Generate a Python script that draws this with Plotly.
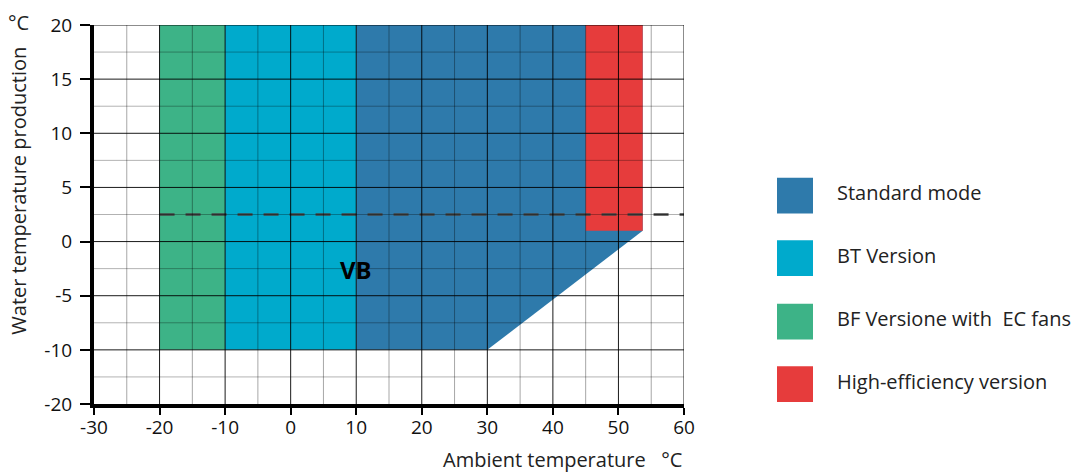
import plotly.graph_objects as go

# ---------------- data ----------------
series_names = ["Standard mode", "BT Version", "BF Versione with  EC fans", "High-efficiency version"]
series_colors = ["#2e7aab", "#00aacc", "#3db387", "#e63c3c"]

# polygon outlines (ambient temp, water temp)
standard_x = [10, 30, 53.7, 53.7, 10, 10]
standard_y = [-10, -10, 1, 20, 20, -10]
bt_x = [-10, 10, 10, -10, -10]
bt_y = [-10, -10, 20, 20, -10]
bf_x = [-20, -10, -10, -20, -20]
bf_y = [-10, -10, 20, 20, -10]
he_x = [45, 53.7, 53.7, 45, 45]
he_y = [1, 1, 20, 20, 1]

limit_x = [-20, 60]
limit_y = [2.5, 2.5]

x_ticks = [-30, -20, -10, 0, 10, 20, 30, 40, 50, 60]
x_minor = [-25, -15, -5, 5, 15, 25, 35, 45, 55]
y_tick_pos = [20, 15, 10, 5, 0, -5, -10, -15]
y_tick_labels = ["20", "15", "10", "5", "0", "-5", "-10", "-20"]
y_minor = [17.5, 12.5, 7.5, 2.5, -2.5, -7.5, -12.5]

label_text = "VB"
label_x, label_y = 9.9, -2.6

FONT = "Open Sans, Lato, sans-serif"

# layout geometry (pixels)
W, H = 1080, 472
L, R, T, B = 94, 684, 22, 404

def px_x(p):
    return (p - L) / (R - L)

def px_y(p):
    return (B - p) / (B - T)

fig = go.Figure()
polys = [(bf_x, bf_y, 2), (bt_x, bt_y, 1), (standard_x, standard_y, 0), (he_x, he_y, 3)]
for xs, ys, i in polys:
    fig.add_trace(go.Scatter(x=xs, y=ys, fill="toself", mode="lines",
                             line=dict(width=0, color=series_colors[i]),
                             fillcolor=series_colors[i], name=series_names[i],
                             showlegend=False, hoverinfo="skip"))

fig.add_trace(go.Scatter(x=limit_x, y=limit_y, mode="lines",
                         line=dict(color="#444444", width=2.5, dash="15px,11px"),
                         showlegend=False, hoverinfo="skip"))

shapes = []
# grid lines above fills
for v in x_minor:
    shapes.append(dict(type="line", xref="x", yref="paper", x0=v, x1=v, y0=0, y1=1,
                       line=dict(color="rgba(0,0,0,0.35)", width=1), layer="above"))
for v in y_minor:
    shapes.append(dict(type="line", xref="paper", yref="y", x0=0, x1=1, y0=v, y1=v,
                       line=dict(color="rgba(0,0,0,0.3)", width=1), layer="above"))
for v in x_ticks[1:]:
    shapes.append(dict(type="line", xref="x", yref="paper", x0=v, x1=v, y0=0, y1=1,
                       line=dict(color="rgba(0,0,0,0.9)", width=1), layer="above"))
for v in y_tick_pos[:-1]:
    shapes.append(dict(type="line", xref="paper", yref="y", x0=0, x1=1, y0=v, y1=v,
                       line=dict(color="rgba(0,0,0,0.9)", width=1), layer="above"))

# legend boxes
legend_centers = [194, 257, 321, 384]
annotations = []
for i, cy in enumerate(legend_centers):
    shapes.append(dict(type="rect", xref="paper", yref="paper",
                       x0=px_x(777), x1=px_x(813), y0=px_y(cy + 18), y1=px_y(cy - 18),
                       fillcolor=series_colors[i], line=dict(width=0)))
    annotations.append(dict(xref="paper", yref="paper", x=px_x(835), y=px_y(cy - 3),
                            text=series_names[i], showarrow=False, xanchor="left",
                            yanchor="middle", font=dict(family=FONT, size=20, color="#222")))

annotations.append(dict(xref="x", yref="y", x=label_x, y=label_y, text="<b>" + label_text + "</b>",
                        showarrow=False, font=dict(family="Noto Sans, Open Sans, sans-serif",
                                                   size=24, color="#000")))
annotations.append(dict(xref="paper", yref="paper", x=px_x(19), y=px_y(189),
                        text="Water temperature production", textangle=-90, showarrow=False,
                        xanchor="center", yanchor="middle",
                        font=dict(family=FONT, size=20, color="#222")))
annotations.append(dict(xref="paper", yref="paper", x=px_x(18), y=px_y(19),
                        text="°C", showarrow=False, xanchor="center", yanchor="middle",
                        font=dict(family=FONT, size=20, color="#222")))
annotations.append(dict(xref="paper", yref="paper", x=1.0, y=px_y(460),
                        text="Ambient temperature   °C", showarrow=False, xanchor="right",
                        yanchor="middle", font=dict(family=FONT, size=20, color="#222")))

fig.update_layout(
    width=W, height=H,
    margin=dict(l=L, r=W - R, t=T, b=H - B),
    plot_bgcolor="white", paper_bgcolor="white",
    shapes=shapes, annotations=annotations,
    xaxis=dict(range=[-30, 60], tickvals=x_ticks, ticktext=[str(v) for v in x_ticks],
               showgrid=False, zeroline=False, showline=True, linecolor="black", linewidth=4,
               ticks="outside", ticklen=7, tickwidth=2, tickcolor="black", ticklabelstandoff=-4,
               tickfont=dict(family=FONT, size=19, color="#111"), layer="above traces"),
    yaxis=dict(range=[-15, 20], tickvals=y_tick_pos, ticktext=y_tick_labels,
               showgrid=False, zeroline=False, showline=True, linecolor="black", linewidth=4,
               ticks="outside", ticklen=10, tickwidth=2, tickcolor="black", ticklabelstandoff=4,
               tickfont=dict(family=FONT, size=19, color="#111"), layer="above traces"),
)

fig.write_html("out.html", config={"displayModeBar": False},
               post_script="document.body.style.margin='0';document.body.style.padding='0';")
